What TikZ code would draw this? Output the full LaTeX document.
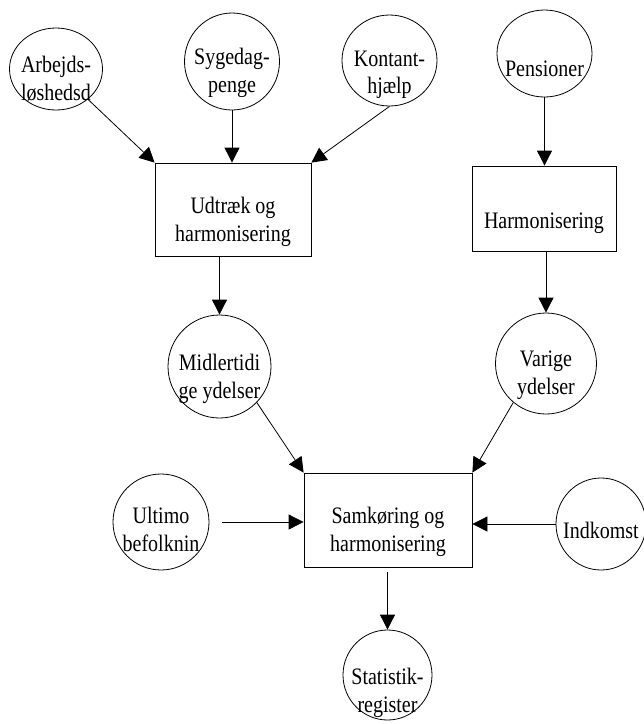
\documentclass[tikz,border=0pt]{standalone}
\usepackage{fontspec}
\setmainfont{Liberation Serif}
\usepackage{graphicx}
\usetikzlibrary{arrows.meta,shapes.geometric}

% lowered, slightly tall text block; #1 = downward shift in pt
\newcommand{\nodetext}[2]{\raisebox{-#1pt}[\height][\depth]{\scalebox{1}[1.18]{\begin{tabular}{@{}c@{}}#2\end{tabular}}}}
% same, but with no width so the text may run past the outline
\newcommand{\bubbletext}[2]{\makebox[0pt]{\nodetext{#1}{#2}}}

\begin{document}
\begin{tikzpicture}[x=1pt, y=-1pt,
  every node/.style={font=\fontsize{20}{23}\selectfont, inner sep=0pt},
  bubble/.style={ellipse, draw, line width=0.8pt},
  stage/.style={rectangle, draw, line width=0.8pt},
  flow/.style={draw, line width=0.8pt, -{Triangle[length=15pt,width=15pt]}}]

\useasboundingbox (0,0) rectangle (644,724);

% data sources
\node[bubble, minimum width=93pt, minimum height=82pt] (arb) at (56,69) {\bubbletext{12}{Arbejds-\\løshedsd}};
\node[bubble, minimum width=95pt, minimum height=97pt] (syge) at (232,61.5) {\bubbletext{11.5}{Sygedag-\\penge}};
\node[bubble, minimum width=95pt, minimum height=91pt] (kon) at (389.5,60.5) {\bubbletext{14}{Kontant-\\hjælp}};
\node[bubble, minimum width=95pt, minimum height=87pt] (pen) at (544.5,53.5) {\bubbletext{18}{Pensioner}};

% processing steps
\node[stage, minimum width=156pt, minimum height=93pt] (b1) at (233,209.5) {\nodetext{12.5}{Udtræk og\\harmonisering}};
\node[stage, minimum width=144pt, minimum height=85pt] (b2) at (544,208.5) {\nodetext{15}{Harmonisering}};
\node[stage, minimum width=168pt, minimum height=94pt] (b3) at (388,520) {\nodetext{12}{Samkøring og\\harmonisering}};

% intermediate and further inputs
\node[bubble, minimum width=103pt, minimum height=103pt] (mid) at (219.5,366.5) {\bubbletext{12.5}{Midlertidi\\ge ydelser}};
\node[bubble, minimum width=101pt, minimum height=101pt] (var) at (546,363.5) {\bubbletext{11.5}{Varige\\ydelser}};
\node[bubble, minimum width=96pt, minimum height=96pt] (ult) at (161,522) {\bubbletext{10}{Ultimo\\befolknin}};
\node[bubble, minimum width=90pt, minimum height=92pt] (ind) at (601,524) {\bubbletext{9}{Indkomst}};

% result
\node[bubble, minimum width=89pt, minimum height=90pt] (sta) at (387.5,675) {\bubbletext{18}{Statistik-\\register}};

% connectors
\draw[flow] (arb) -- (b1.north west);
\draw[flow] (syge) -- (syge |- b1.north);
\draw[flow] (kon.south) -- (b1.north east);
\draw[flow] (pen) -- (pen |- b2.north);
\draw[flow] (mid |- b1.south) -- (mid);
\draw[flow] (var |- b2.south) -- (var);
\draw[flow] (mid.-44) -- (b3.north west);
\draw[flow] (var.-130) -- (b3.north east);
\draw[flow, shorten <=13pt] (ult) -- (ult -| b3.west);
\draw[flow] (ind) -- (ind -| b3.east);
\draw[flow, shorten <=5pt] (sta |- b3.south) -- (sta);
\end{tikzpicture}
\end{document}
